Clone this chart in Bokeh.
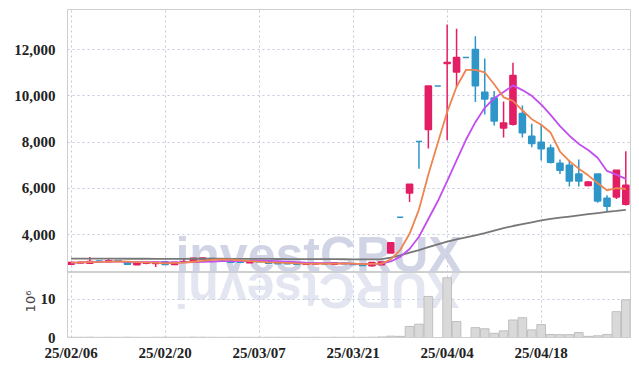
import numpy as np
import pandas as pd
from bokeh.plotting import figure
from bokeh.layouts import column
from bokeh.models import ColumnDataSource, Range1d, FixedTicker, NumeralTickFormatter, Label
from bokeh.embed import file_html
from bokeh.resources import INLINE

# ---- data ----
dates = ["25/02/06", "25/02/07", "25/02/10", "25/02/11", "25/02/12", "25/02/13", "25/02/14",
         "25/02/17", "25/02/18", "25/02/19", "25/02/20", "25/02/21", "25/02/24", "25/02/25",
         "25/02/26", "25/02/27", "25/02/28", "25/03/04", "25/03/05", "25/03/06", "25/03/07",
         "25/03/10", "25/03/11", "25/03/12", "25/03/13", "25/03/14", "25/03/17", "25/03/18",
         "25/03/19", "25/03/20", "25/03/21", "25/03/24", "25/03/25", "25/03/26", "25/03/27",
         "25/03/28", "25/03/31", "25/04/01", "25/04/02", "25/04/03", "25/04/04", "25/04/07",
         "25/04/08", "25/04/09", "25/04/10", "25/04/11", "25/04/14", "25/04/15", "25/04/16",
         "25/04/17", "25/04/18", "25/04/21", "25/04/22", "25/04/23", "25/04/24", "25/04/25",
         "25/04/28", "25/04/29", "25/04/30", "25/05/02"]

opens = [2720, 2770, 2760, 2860, 2830, 2880, 2830, 2700, 2760, 2750,
         2820, 2710, 2800, 2850, 2940, 2970, 2930, 2880, 2820, 2780,
         2840, 2830, 2790, 2760, 2750, 2720, 2730, 2750, 2720, 2760,
         2740, 2720, 2650, 2700, 3205, 4745, 5800, 8020, 8540, 10420,
         11400, 11030, 11650, 12000, 10154, 9908, 8610, 8770, 9233, 8251,
         7992, 7745, 7083, 6997, 6621, 6119, 6621, 5570, 5627, 5311]
highs = [2800, 2830, 3030, 2880, 2990, 2900, 2840, 2780, 2830, 2810,
         2830, 2810, 2950, 3000, 3010, 2990, 2950, 2900, 2850, 2850,
         2860, 2840, 2800, 2780, 2770, 2760, 2780, 2770, 2790, 2780,
         2760, 2740, 2800, 2820, 3660, 4745, 6170, 8020, 10420, 10420,
         13080, 12900, 11650, 12575, 11610, 10210, 9750, 11430, 9585, 8790,
         8790, 7892, 7243, 7210, 7243, 6300, 6621, 5700, 6781, 7603]
lows = [2710, 2750, 2740, 2830, 2820, 2840, 2700, 2690, 2720, 2600,
        2700, 2700, 2790, 2840, 2920, 2920, 2880, 2790, 2780, 2770,
        2800, 2740, 2720, 2720, 2700, 2700, 2710, 2710, 2700, 2720,
        2690, 2640, 2620, 2680, 3200, 4745, 5410, 6850, 7720, 10420,
        8080, 10360, 11650, 9735, 9189, 8710, 8195, 8714, 8200, 7780,
        7200, 7071, 6620, 6075, 6075, 6090, 5375, 5021, 5540, 5260]
closes = [2790, 2800, 2840, 2840, 2870, 2860, 2720, 2760, 2790, 2800,
          2710, 2800, 2830, 2980, 2990, 2930, 2900, 2800, 2800, 2830,
          2820, 2760, 2740, 2740, 2720, 2740, 2760, 2730, 2780, 2740,
          2710, 2660, 2790, 2810, 3650, 4745, 6170, 8020, 10420, 10420,
          11440, 11654, 11650, 10430, 9860, 8905, 8820, 10882, 8400, 7935,
          7710, 7125, 6781, 6315, 6315, 6270, 5450, 5220, 6781, 6132]
volume_m = [0.06, 0.05, 0.08, 0.04, 0.06, 0.05, 0.07, 0.05, 0.04, 0.06,
            0.07, 0.05, 0.06, 0.09, 0.07, 0.05, 0.04, 0.06, 0.05, 0.05,
            0.04, 0.05, 0.06, 0.04, 0.05, 0.04, 0.05, 0.04, 0.06, 0.04,
            0.05, 0.06, 0.08, 0.15, 0.35, 0.30, 2.9, 3.5, 10.8, 0.0,
            15.7, 4.2, 0.0, 2.6, 2.3, 1.1, 1.75, 4.6, 5.2, 2.0,
            3.4, 0.8, 0.75, 0.75, 1.3, 0.3, 0.45, 0.8, 6.8, 9.9]
ma60 = [2960, 2960, 2958, 2958, 2957, 2956, 2955, 2955, 2954, 2953,
        2952, 2952, 2953, 2955, 2956, 2955, 2954, 2952, 2950, 2949,
        2948, 2946, 2944, 2942, 2940, 2939, 2938, 2936, 2935, 2933,
        2931, 2928, 2928, 2940, 3000, 3100, 3220, 3330, 3460, 3580,
        3690, 3790, 3880, 3960, 4060, 4170, 4280, 4370, 4450, 4530,
        4610, 4680, 4730, 4780, 4830, 4880, 4930, 4980, 5020, 5070]
x_ticks = [0, 10, 20, 30, 40, 50]
price_ticks = [4000, 6000, 8000, 10000, 12000]
vol_ticks = [0, 10]
vol_unit = "10⁶"

UP = "#E31E64"
DOWN = "#2E96C8"
WM_COLOR = "#C8CDE1"

idx = list(range(len(dates)))
ma5 = pd.Series(closes).rolling(5, min_periods=1).mean().tolist()
ma10 = pd.Series(closes).rolling(10, min_periods=1).mean().tolist()
colors = [UP if c > o else DOWN for o, c in zip(opens, closes)]
src = ColumnDataSource(dict(
    x=idx, open=opens, high=highs, low=lows, close=closes,
    top=[max(o, c) for o, c in zip(opens, closes)],
    bottom=[min(o, c) for o, c in zip(opens, closes)],
    color=colors, vol=volume_m, ma5=ma5, ma10=ma10, ma60=ma60))

TICK_FONT = "Liberation Sans Narrow"
GRID_COLOR = "#C3C9DD"

def style(p):
    p.outline_line_color = "#CFCFCF"
    p.outline_line_width = 1
    p.background_fill_color = "white"
    p.border_fill_color = "white"
    for ax in p.axis:
        ax.major_tick_line_color = None
        ax.minor_tick_line_color = None
        ax.axis_line_color = "#CFCFCF"
        ax.major_label_text_font = TICK_FONT
        ax.major_label_text_font_style = "bold"
        ax.major_label_text_font_size = "15px"
        ax.major_label_text_color = "#222222"
        ax.major_label_standoff = 6
    for g in p.grid:
        g.grid_line_color = GRID_COLOR
        g.grid_line_dash = "2 3"
        g.grid_line_width = 1

xr = Range1d(-0.38, 59.5)

# ---- price panel ----
p1 = figure(width=631, height=272, x_range=xr, y_range=Range1d(2360, 13730),
            output_backend="svg", toolbar_location=None,
            min_border_left=67, min_border_right=1, min_border_top=9, min_border_bottom=0)
p1.xaxis.visible = False
p1.yaxis.ticker = FixedTicker(ticks=price_ticks)
p1.yaxis.formatter = NumeralTickFormatter(format="0,0")
p1.ygrid.ticker = FixedTicker(ticks=price_ticks)
p1.xgrid.ticker = FixedTicker(ticks=x_ticks)
style(p1)

# watermark (decoration): baseline sits on the bottom edge of the price frame
wm = Label(x=11.1, y=1906, text="investCRUX", text_font="Liberation Sans",
           text_font_style="bold", text_font_size="50px", text_color=WM_COLOR,
           text_alpha=0.85, text_baseline="bottom", text_align="left", level="underlay")
p1.add_layout(wm)

p1.segment(x0="x", y0="high", x1="x", y1="low", color="color", line_width=1.5, source=src)
p1.vbar(x="x", width=0.65, top="top", bottom="bottom", fill_color="color",
        line_color="color", line_width=1.5, source=src)
p1.line(x="x", y="ma60", color="#777777", line_width=1.8, source=src)
p1.line(x="x", y="ma10", color="#C24EF0", line_width=1.8, source=src)
p1.line(x="x", y="ma5", color="#EE8450", line_width=1.8, source=src)

# ---- volume panel ----
p2 = figure(width=631, height=94, x_range=xr, y_range=Range1d(0, 17.1),
            output_backend="svg", toolbar_location=None,
            min_border_left=67, min_border_right=1, min_border_top=0, min_border_bottom=29)
p2.yaxis.ticker = FixedTicker(ticks=vol_ticks)
p2.ygrid.ticker = FixedTicker(ticks=[10])
p2.xaxis.ticker = FixedTicker(ticks=x_ticks)
p2.xgrid.ticker = FixedTicker(ticks=x_ticks)
p2.xaxis.major_label_overrides = {i: dates[i] for i in x_ticks}
style(p2)
p2.xaxis.major_label_standoff = 1

# unit label of the volume axis, placed in the left side panel next to the tick labels
unit = Label(x=-4.32, y=9.47, text=vol_unit, text_font="DejaVu Sans",
             text_font_size="13px", text_color="#444444", angle=np.pi / 2,
             text_align="center", text_baseline="middle")
p2.add_layout(unit, "left")

# reflection of the watermark (upside down, hanging from the top of the volume frame)
wm2 = Label(x=41.43, y=19.86, text="XURCtsevni", text_font="Liberation Sans",
            text_font_style="bold", text_font_size="50px", text_color=WM_COLOR,
            text_alpha=0.5, angle=np.pi, text_baseline="bottom", text_align="left",
            level="underlay")
p2.add_layout(wm2)

p2.vbar(x="x", width=0.92, top="vol", bottom=0, fill_color="#D9D9D9",
        line_color="#BFBFBF", line_width=1, source=src)

layout = column(p1, p2, spacing=0)
open("out.html", "w").write(file_html(layout, INLINE))
